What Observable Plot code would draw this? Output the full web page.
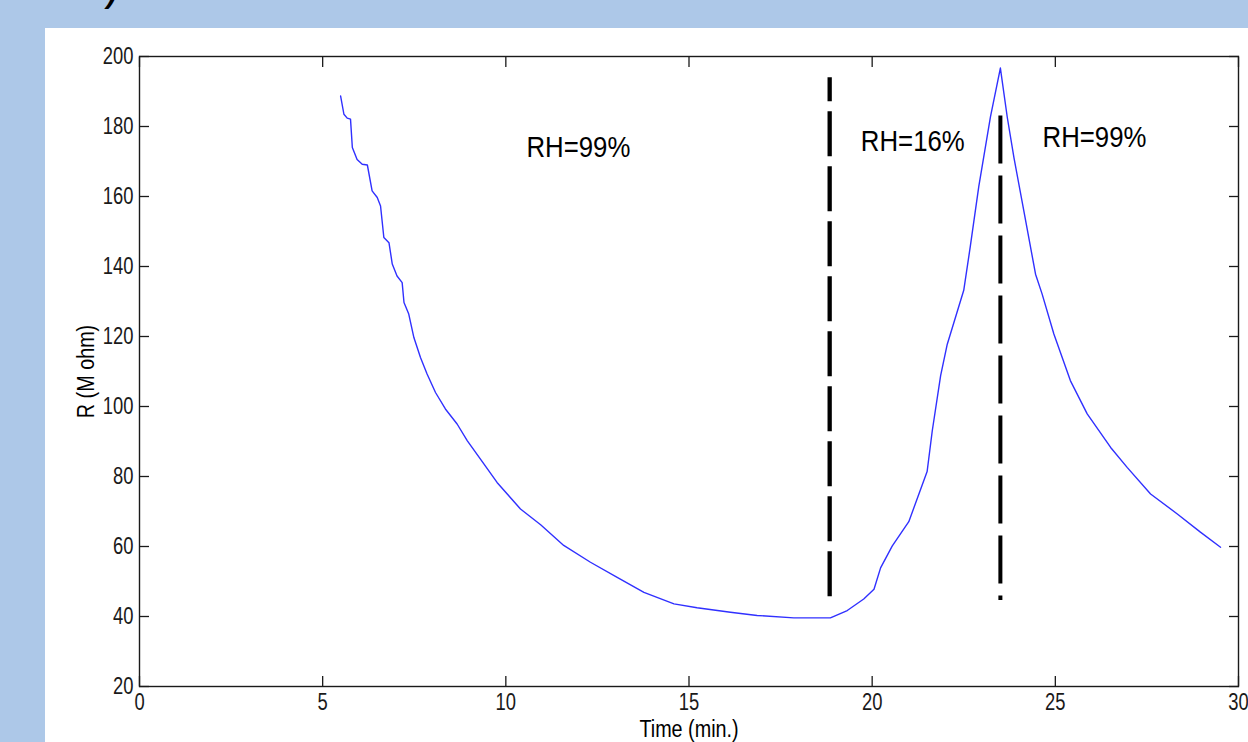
<!DOCTYPE html>
<html><head><meta charset="utf-8">
<script src="https://cdn.jsdelivr.net/npm/d3@7"></script>
<script src="https://cdn.jsdelivr.net/npm/@observablehq/plot@0.6"></script>
<style>
html,body{margin:0;padding:0;background:#adc8e8;width:1248px;height:742px;overflow:hidden;position:relative;font-family:"Liberation Sans",Arial,sans-serif}
#paren{position:absolute;left:104px;top:-41px;font-size:48px;line-height:48px;color:#000;font-family:"Liberation Sans",Arial,sans-serif}
#panel{position:absolute;left:45px;top:28px;width:1203px;height:714px;background:#fff}
</style></head><body>
<div id="paren">)</div>
<div id="panel"></div>
<script>
// Resistance curve (time in minutes, R in M ohm)
const time = [5.49,5.58,5.67,5.76,5.81,5.94,6.08,6.22,6.35,6.49,6.58,6.67,6.81,6.90,7.03,7.17,7.22,7.35,7.49,7.67,7.85,8.08,8.35,8.67,8.95,9.40,9.76,10.40,10.95,11.58,12.31,13.04,13.77,14.59,15.22,16.13,16.86,17.86,18.86,19.32,19.77,20.05,20.23,20.55,21.0,21.5,21.64,21.87,22.05,22.5,22.68,22.91,23.23,23.50,23.69,23.87,24.14,24.46,24.64,24.96,25.41,25.87,26.51,26.96,27.60,28.33,28.96,29.51];
const resistance = [188.7,183.5,182.4,182.1,174.0,170.6,169.2,169.0,161.6,159.7,157.3,148.3,146.8,140.7,137.3,135.4,129.7,126.4,119.7,114.0,109.3,104.0,99.3,95.0,90.2,83.6,78.3,70.7,66.2,60.3,55.5,51.2,46.9,43.6,42.5,41.2,40.3,39.6,39.6,41.7,45.0,47.8,53.9,60.2,67.1,81.4,93.0,108.9,117.8,133.2,145.8,162.8,182.8,196.7,182.5,171.1,155.9,137.8,132.1,120.7,107.4,97.9,88.3,82.6,75.0,69.3,64.1,59.8];

// Humidity switch markers
const switchTime = [18.84, 23.5];
const switchTop = [193.9, 183.0];
const switchBottom = [43.1, 44.6];

// Region labels
const regionLabels = ["RH=99%", "RH=16%", "RH=99%"];
const regionX = [11.98, 21.11, 26.07];
const regionY = [173.9, 175.7, 177.0];

// Axes
const xTicks = [0, 5, 10, 15, 20, 25, 30];
const yTicks = [20, 40, 60, 80, 100, 120, 140, 160, 180, 200];
const xTitle = "Time (min.)";
const yTitle = "R (M ohm)";

const curve = time.map((t, i) => ({t, r: resistance[i]}));
const sw1 = [{x: switchTime[0], y1: switchTop[0], y2: switchBottom[0]}];
const sw2 = [{x: switchTime[1], y1: switchTop[1], y2: switchBottom[1]}];
const labels = regionLabels.map((s, i) => ({s, x: regionX[i], y: regionY[i]}));

const ink = "#1a1a1a";
const svg = Plot.plot({
  width: 1203,
  height: 714,
  marginLeft: 94,
  marginRight: 10,
  marginTop: 28,
  marginBottom: 56,
  style: {background: "#fff", color: ink, fontFamily: '"Liberation Sans", Arial, sans-serif', overflow: "visible"},
  x: {domain: [0, 30]},
  y: {domain: [20, 200]},
  marks: [
    Plot.axisX({ticks: xTicks, tickSize: -10, tickPadding: 17, fontSize: 23, label: null, strokeWidth: 1.3}),
    Plot.axisX({anchor: "top", ticks: xTicks, tickSize: -10, tickFormat: () => "", label: null, strokeWidth: 1.3}),
    Plot.axisY({ticks: yTicks, tickSize: -10, tickPadding: 16, fontSize: 23, label: null, strokeWidth: 1.3}),
    Plot.axisY({anchor: "right", ticks: yTicks, tickSize: -10, tickFormat: () => "", label: null, strokeWidth: 1.3}),
    Plot.frame({stroke: ink, strokeWidth: 1.4}),
    Plot.ruleX(sw1, {x: "x", y1: "y1", y2: "y2", stroke: "#000", strokeWidth: 4.3, strokeDasharray: "45,10", strokeDashoffset: 21}),
    Plot.ruleX(sw2, {x: "x", y1: "y1", y2: "y2", stroke: "#000", strokeWidth: 4, strokeDasharray: "48,12"}),
    Plot.line(curve, {x: "t", y: "r", stroke: "#3030ff", strokeWidth: 1.4}),
    Plot.text(labels, {x: "x", y: "y", text: "s", fontSize: 30, fill: "#000", lineAnchor: "middle", textAnchor: "middle"}),
    Plot.text([xTitle], {text: d => d, frameAnchor: "bottom", lineAnchor: "bottom", dy: 50, fontSize: 23, fill: "#000"}),
    Plot.text([yTitle], {text: d => d, frameAnchor: "left", rotate: -90, lineAnchor: "top", textAnchor: "middle", dx: -62, fontSize: 23, fill: "#000"})
  ]
});
svg.style.position = "absolute";
svg.style.left = "0px";
svg.style.top = "0px";
document.getElementById("panel").appendChild(svg);

// Condense the text horizontally like the narrow font of the original
function condense(selector, s) {
  svg.querySelectorAll(selector).forEach(t => {
    let tr = t.getAttribute("transform") || "";
    const x = t.getAttribute("x");
    if (x !== null && !String(x).includes("em")) {
      tr = `translate(${x},0) ` + tr;
      t.removeAttribute("x");
    }
    t.setAttribute("transform", tr + ` scale(${s},1)`);
  });
}
condense('g[aria-label="x-axis tick label"] text', 0.8);
condense('g[aria-label="y-axis tick label"] text', 0.8);
condense('g[aria-label="text"] text', 0.86);
</script>
</body></html>
